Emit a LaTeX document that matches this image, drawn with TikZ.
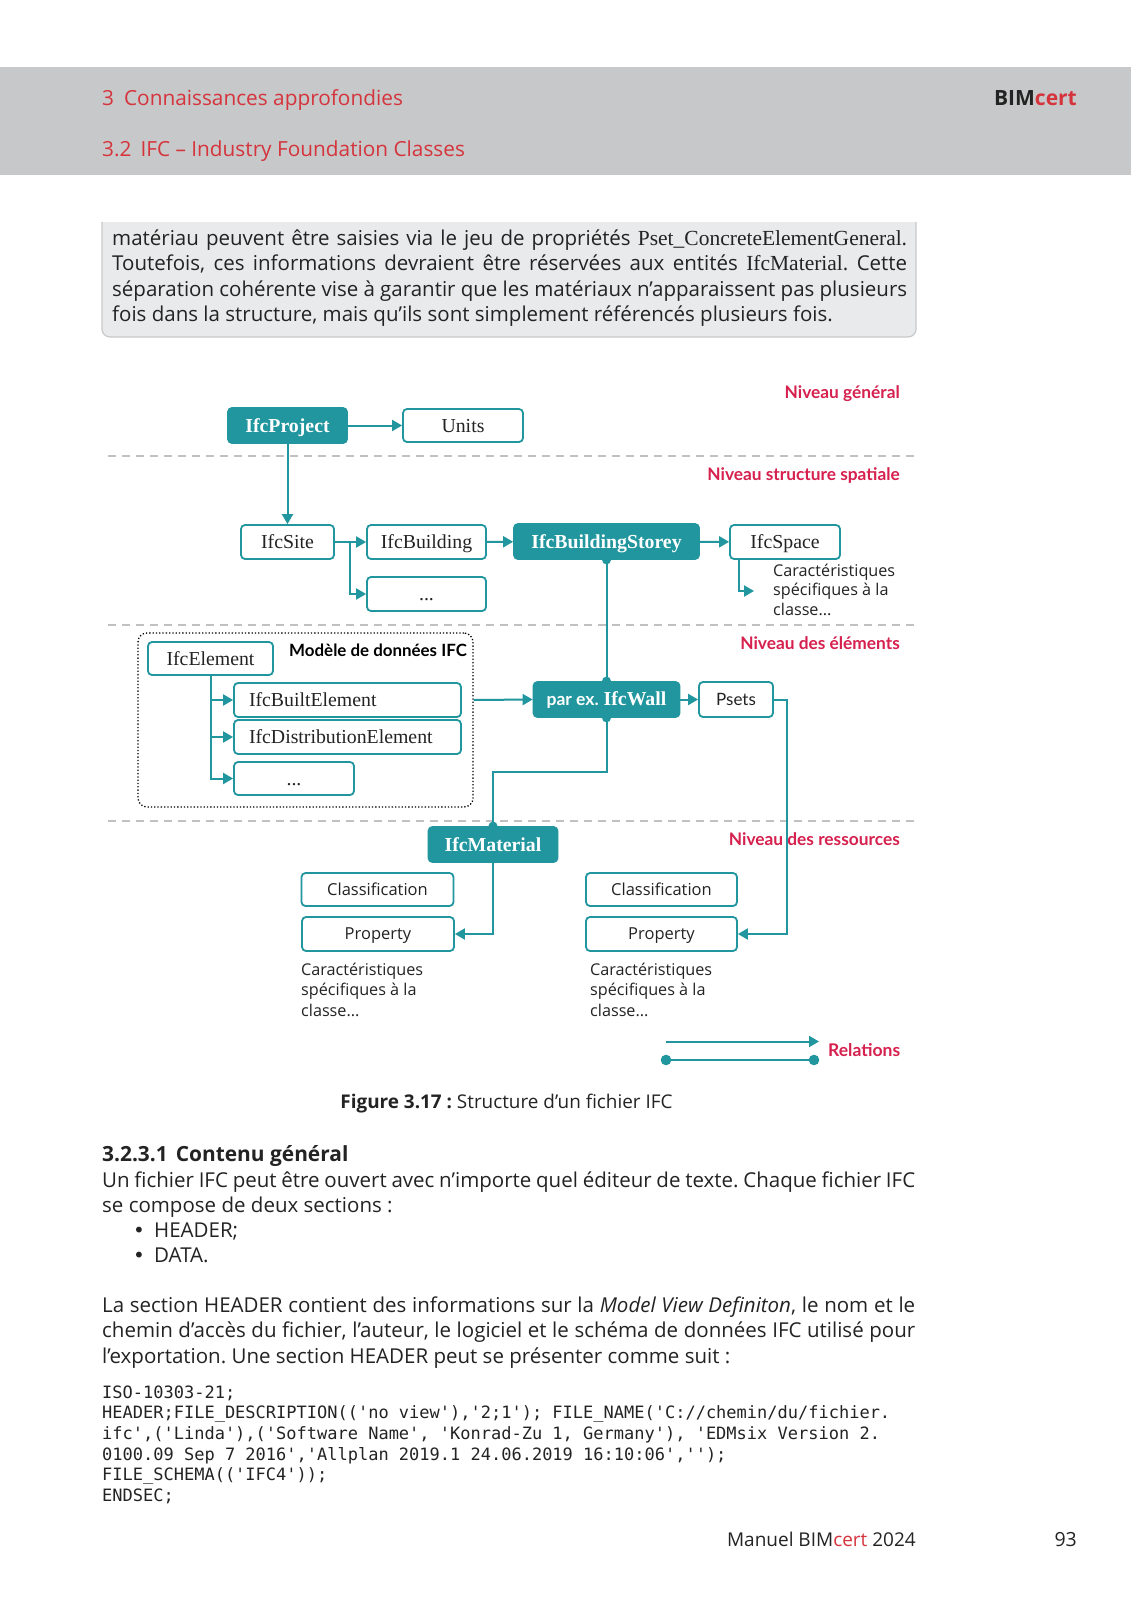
\documentclass[tikz,border=0pt]{standalone}
\usepackage{fontspec}
\setmainfont{Open Sans}
\setmonofont{DejaVu Sans Mono}
\newfontfamily\libserif{Liberation Serif}
\newfontfamily\latofont{Lato}
\newfontfamily\dejavu{DejaVu Sans}
\usetikzlibrary{arrows.meta}
\frenchspacing
\definecolor{tealc}{RGB}{33,150,158}
\definecolor{lred}{RGB}{214,32,78}
\definecolor{hred}{RGB}{213,52,60}
\definecolor{hgray}{RGB}{199,200,201}
\definecolor{boxgray}{RGB}{233,234,235}
\definecolor{boxline}{RGB}{200,201,202}
\definecolor{dashgray}{RGB}{192,192,192}
\definecolor{ink}{RGB}{35,35,35}
\newcommand\bodyfnt{\fontsize{20.5}{25.5}\selectfont}
\newcommand\serfnt{\libserif\fontsize{19.8}{22}\selectfont}
\newcommand\smallfnt{\fontsize{16.2}{19.5}\selectfont}
\tikzset{
  nbox/.style={draw=tealc, line width=1.8pt, rounded corners=4pt, fill=white,
    inner sep=0pt, text height=13pt, text depth=0pt, font=\serfnt, text=ink},
  filledbox/.style={nbox, fill=tealc, text=white, font=\serfnt\bfseries},
  sansbox/.style={nbox, font=\fontsize{16.5}{19}\selectfont, text height=11.8pt},
  conn/.style={draw=tealc, line width=2pt},
  arr/.style={conn, -{Triangle[length=10pt,width=11pt]}},
  lvl/.style={anchor=east, inner sep=0pt, text=lred, text height=12pt, text depth=0pt,
    font=\latofont\bfseries\fontsize{17.3}{19}\selectfont},
  dashl/.style={draw=dashgray, line width=1.5pt, dash pattern=on 8pt off 6pt},
  txt/.style={anchor=base west, inner sep=0pt, text=ink},
}
\begin{document}
\begin{tikzpicture}[x=1pt,y=-1pt]
\useasboundingbox (0,0) rectangle (1131,1600);
\fill[white] (0,0) rectangle (1131,1600);
% header band
\fill[hgray] (0,67) rectangle (1131,175);
\node[txt, text=hred, font=\fontsize{20.8}{26}\selectfont] (h1) at (102,106) {3\hspace{10pt}Connaissances approfondies};
\node[txt, text=hred, font=\fontsize{20.8}{26}\selectfont] (h2) at (102,157) {3.2\hspace{9pt}IFC – Industry Foundation Classes};
\node[anchor=base east, inner sep=0pt, font=\fontsize{21}{26}\selectfont\bfseries] (brand) at (1077,106) {\textcolor{ink}{BIM}\textcolor{hred}{cert}};
% text box
\fill[boxgray, rounded corners=8pt] (102,210) rectangle (916,337);
\draw[boxline, line width=1.2pt, rounded corners=8pt] (102,222) -- (102,337) -- (916,337) -- (916,222);
\fill[white] (100,200) rectangle (918,222);
\node[txt] (para0) at (112,245) {\vtop{\bodyfnt
  \hbox to 795pt{matériau peuvent être saisies via le jeu de propriétés {\libserif\fontsize{21.5}{25}\selectfont Pset\_ConcreteElementGeneral}.}
  \hbox to 795pt{Toutefois, ces informations devraient être réservées aux entités {\libserif\fontsize{21.5}{25}\selectfont IfcMaterial}. Cette}
  \hbox to 795pt{séparation cohérente vise à garantir que les matériaux n’apparaissent pas plusieurs}
  \hbox{fois dans la structure, mais qu’ils sont simplement référencés plusieurs fois.}}};
% level lines and labels
\draw[dashl] (108,456) -- (915,456);
\draw[dashl] (108,625) -- (915,625);
\draw[dashl] (108,821) -- (915,821);
\node[lvl] (lv1) at (900,392.5) {Niveau général};
\node[lvl] (lv2) at (900,474) {Niveau structure spatiale};
\node[lvl] (lv3) at (900,643) {Niveau des éléments};
% model box
\node[draw=black, dotted, line width=1.3pt, rounded corners=9pt, minimum width=335pt, minimum height=174pt, inner sep=0pt] (modelbox) at (305.5,720) {};
\node[anchor=west, inner sep=0pt, text height=12pt, text depth=0pt, font=\latofont\bfseries\fontsize{16.9}{18}\selectfont, text=black] (mlabel) at (289,650) {Modèle de données IFC};
% nodes
\node[filledbox, minimum width=119pt, minimum height=35pt] (proj) at (287.5,425.5) {IfcProject};
\node[nbox, minimum width=120pt, minimum height=33pt] (units) at (463,425.5) {Units};
\node[nbox, minimum width=93pt, minimum height=34pt] (site) at (287.5,542) {IfcSite};
\node[nbox, minimum width=119pt, minimum height=34pt] (bldg) at (426.5,542) {IfcBuilding};
\node[filledbox, minimum width=185pt, minimum height=35pt] (storey) at (606.5,541.5) {IfcBuildingStorey};
\node[nbox, minimum width=110pt, minimum height=34pt] (space) at (785,542) {IfcSpace};
\node[nbox, minimum width=119pt, minimum height=34pt] (dots1) at (426.5,594) {...};
\node[nbox, minimum width=125pt, minimum height=33pt] (elem) at (210.5,658.5) {IfcElement};
\node[nbox, minimum width=227pt, minimum height=34pt] (built) at (347.5,700) {\makebox[197pt][l]{IfcBuiltElement}};
\node[nbox, minimum width=227pt, minimum height=34pt] (distr) at (347.5,737) {\makebox[197pt][l]{IfcDistributionElement}};
\node[nbox, minimum width=120pt, minimum height=33pt] (dots2) at (294,778.5) {...};
\node[filledbox, minimum width=146pt, minimum height=35pt, text height=12.5pt] (wall) at (606.5,699.5) {{\latofont\bfseries\fontsize{17.5}{19}\selectfont par ex.} IfcWall};
\node[nbox, minimum width=74pt, minimum height=35pt, font=\latofont\fontsize{17}{19}\selectfont, text height=12.2pt] (psets) at (736,699.5) {Psets};
\node[filledbox, minimum width=129pt, minimum height=35pt] (mat) at (493,844.5) {IfcMaterial};
\node[sansbox, minimum width=152pt, minimum height=33pt] (clL) at (377.5,889.5) {Classification};
\node[sansbox, minimum width=152pt, minimum height=34pt] (prL) at (378,934) {Property};
\node[sansbox, minimum width=151pt, minimum height=33pt] (clR) at (661.5,889.5) {Classification};
\node[sansbox, minimum width=151pt, minimum height=34pt] (prR) at (661.5,934) {Property};
\node[lvl] (lv4) at (900,839) {Niveau des ressources};
% descriptive texts
\node[txt] (spTxt) at (773,576) {\vtop{\smallfnt\hbox{Caractéristiques}\hbox{spécifiques à la}\hbox{classe...}}};
\node[txt] (lTxt) at (301,975) {\vtop{\fontsize{16.2}{20.5}\selectfont\hbox{Caractéristiques}\hbox{spécifiques à la}\hbox{classe...}}};
\node[txt] (rTxt) at (590,975) {\vtop{\fontsize{16.2}{20.5}\selectfont\hbox{Caractéristiques}\hbox{spécifiques à la}\hbox{classe...}}};
% connectors
\draw[arr] (proj) -- (units);
\draw[arr] (proj.south) -- (site.north);
\coordinate (j1) at (350,542);
\draw[conn] (site.east) -- (j1);
\draw[arr] (j1) -- (bldg.west);
\draw[arr] (j1) |- (dots1.west);
\draw[arr] (bldg) -- (storey);
\draw[arr] (storey) -- (space);
\coordinate (spStart) at (739,559);
\coordinate (spEnd) at (754,591);
\draw[arr] (spStart) |- (spEnd);
\draw[conn] (storey.south) -- (wall.north);
\fill[tealc] (storey.south) circle (4.5pt);
\fill[tealc] (wall.north) circle (4.5pt);
\draw[arr] (elem.south) |- (built.west);
\draw[arr] (elem.south) |- (distr.west);
\draw[arr] (elem.south) |- (dots2.west);
\draw[arr] (modelbox.east |- built.east) -- (wall.west);
\draw[arr] (wall) -- (psets);
\coordinate (wm) at (493,772);
\draw[conn] (wall.south) |- (wm) -- (mat.north);
\fill[tealc] (wall.south) circle (4.5pt);
\fill[tealc] (mat.north) circle (4.5pt);
\coordinate (pc) at (787,934);
\draw[arr] (psets.east) -| (pc) -- (prR.east);
\draw[arr] (mat.south) |- (prL.east);
% legend
\coordinate (la1) at (666,1041.5);
\coordinate (la2) at (819,1041.5);
\coordinate (lb1) at (666,1060);
\coordinate (lb2) at (814,1060);
\draw[arr] (la1) -- (la2);
\draw[conn] (lb1) -- (lb2);
\fill[tealc] (lb1) circle (5.3pt);
\fill[tealc] (lb2) circle (5.3pt);
\node[anchor=west, inner sep=0pt, text height=12pt, text depth=0pt, text=lred, font=\latofont\bfseries\fontsize{17.5}{19}\selectfont] (rel) at (828,1050.5) {Relations};
% caption
\node[anchor=base, inner sep=0pt, text=ink, font=\fontsize{18.9}{22}\selectfont] (cap) at (506.5,1108) {\textbf{Figure 3.17 :} Structure d’un fichier IFC};
% section
\node[txt, font=\fontsize{20.9}{25}\selectfont\bfseries] (sec) at (102,1161) {3.2.3.1\hspace{8pt}Contenu général};
\node[txt] (body1) at (102,1187) {\vtop{\bodyfnt
  \hbox to 813pt{Un fichier IFC peut être ouvert avec n’importe quel éditeur de texte. Chaque fichier IFC}
  \hbox{se compose de deux sections :}}};
\node[txt, font=\dejavu\fontsize{20}{24}\selectfont] (b1) at (133,1237) {•};
\node[txt, font=\bodyfnt] (b1t) at (154,1237) {HEADER;};
\node[txt, font=\dejavu\fontsize{20}{24}\selectfont] (b2) at (133,1262) {•};
\node[txt, font=\bodyfnt] (b2t) at (154,1262) {DATA.};
\node[txt] (body2) at (102,1312) {\vtop{\bodyfnt
  \hbox to 813pt{La section HEADER contient des informations sur la \textit{Model View Definiton}, le nom et le}
  \hbox to 813pt{chemin d’accès du fichier, l’auteur, le logiciel et le schéma de données IFC utilisé pour}
  \hbox{l’exportation. Une section HEADER peut se présenter comme suit :}}};
\node[txt] (code) at (102,1398) {\vtop{\ttfamily\fontsize{17}{20.7}\selectfont
  \hbox{ISO-10303-21;}
  \hbox{HEADER;FILE\_DESCRIPTION(('no view'),'2;1'); FILE\_NAME('C://chemin/du/fichier.}
  \hbox{ifc',('Linda'),('Software Name', 'Konrad-Zu 1, Germany'), 'EDMsix Version 2.}
  \hbox{0100.09 Sep 7 2016','Allplan 2019.1 24.06.2019 16:10:06','');}
  \hbox{FILE\_SCHEMA(('IFC4'));}
  \hbox{ENDSEC;}}};
% footer
\node[anchor=base east, inner sep=0pt, text=ink, font=\fontsize{19}{24}\selectfont] (foot) at (916,1546) {Manuel BIM\textcolor{hred}{cert} 2024};
\node[anchor=base east, inner sep=0pt, text=ink, font=\fontsize{19.5}{24}\selectfont] (page) at (1077,1546) {93};
\end{tikzpicture}
\end{document}
